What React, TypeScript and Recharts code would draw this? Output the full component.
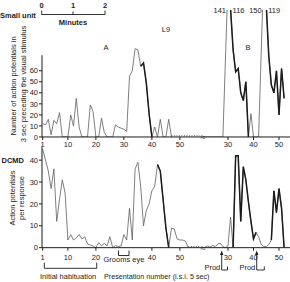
import { LineChart, Line, XAxis, YAxis, ReferenceLine, ReferenceDot } from "recharts"

const FONT = "'Liberation Sans', Arial, sans-serif"
const INK = "#1c1c1c"
const THIN = "#5e5e5e"

// first trial number of each run of values
const startA = 1
const startB = 21

// upper graph: action potentials of the small unit in the 3 sec before the stimulus
const upperA = [
  12, 11, 16, 2, 15, 12, 22, 0, 0, 0, 20, 10, 35, 9, 0, 0, 0, 29, 23, 0, 0, 17, 4, 0, 0, 0, 11, 9, 8, 7, 5, 55, 60,
  80, 79, 64, 67, 49, 21, 0, 9, 0, 16, 0, 0, 16, 0,
]
const upperB = [
  0, 0, 0, 0, 0, 0, 0, 0, null, 141, 116, 79, 59, 62, 40, 33, 50, 0, 21, 0, 0, 0, null, 150, 119, 73, 47, 40, 60, 20,
  62, 35,
]
// dotted stretch after session A
const upperGapTrials = [47, 57]
const upperGapValues = [1, 1]

// lower graph: DCMD action potentials per response
const lowerA = [
  45, 40, 35, 27, 36, 12, 22, 31, 25, 3.5, 6, 3.5, 4.5, 6, 4, 5, 1.7, 1.2, 0.8, 0, 2.3, 0.8, 2, 0.8, 5, 0, 1, 0.5, 0.8,
  6, 3.5, 18, 3.5, 36, 39, 28, 10, 17, 20, 26, 28, 38, 35, 22, 9, 0, 9, 8.5, 4, 3.5, 3.5, 3, 0,
]
const lowerB = [
  0.3, 0.8, 0.3, 1, 0.5, 1.7, 2, 0.5, 0, 0.8, 14, 0, 42, 42, 12, 37, 31, 21, 12, 4, 7, 5, 1.5, 0.5, 0.5, 1.5, 3.5, 26,
  16, 27, 18, 0,
]
const lowerGapTrials = [53, 57]
const lowerGapValues = [0.5, 0.5]

// trial ranges drawn with the heavy line
const upperThickA = [[36, 40]]
const upperThickB = [[31, 38], [45, 52]]
const lowerThickA = [[42, 46]]
const lowerThickB = [[32, 41], [47, 52]]

const upperTicksA = [1, 10, 20, 30, 40, 50]
const lowerTicksA = [1, 10, 20, 40, 50]
const ticksB = [30, 40, 50]
const upperYTicks = [0, 10, 20, 30, 40, 50, 60]
const lowerYTicks = [0, 10, 20, 30, 40]

// broken x axis: each session has its own scale
const A_DOMAIN: [number, number] = [0.75, 89.32]
const B_DOMAIN: [number, number] = [-42.94, 54.31]

type Pt = { t: number; v: number | null }
const pts = (start: number, vals: (number | null)[]): Pt[] => vals.map((v, i) => ({ t: start + i, v }))
const within = (p: Pt[], r: number[]) => p.filter((d) => d.t >= r[0] && d.t <= r[1])

const tickStyle = { fontSize: 7.5, fill: INK, fontFamily: FONT }

type PanelProps = {
  top: number
  height: number
  marginBottom: number
  yDomain: [number, number]
  yTicks: number[]
  yLineTop?: number
  a: Pt[]
  b: Pt[]
  gap: Pt[]
  thickA: number[][]
  thickB: number[][]
  aTicks: number[]
  tickGap: number
  peakCut?: number
}

function Panel(p: PanelProps) {
  const peaks = p.peakCut ? p.b.filter((d) => d.v !== null && d.v > (p.peakCut as number)) : []
  return (
    <div style={{ position: "absolute", left: 0, top: p.top }}>
      <LineChart width={290} height={p.height} margin={{ top: 10, right: 0, bottom: p.marginBottom, left: 0 }}>
        <XAxis
          xAxisId="b"
          dataKey="t"
          type="number"
          domain={B_DOMAIN}
          allowDataOverflow
          ticks={ticksB}
          interval={0}
          height={0.01}
          axisLine={false}
          tickSize={3}
          tickMargin={p.tickGap}
          tick={tickStyle}
          stroke={INK}
        />
        <XAxis
          xAxisId="a"
          dataKey="t"
          type="number"
          domain={A_DOMAIN}
          allowDataOverflow
          ticks={p.aTicks}
          interval={0}
          height={0.01}
          tickSize={3}
          tickMargin={p.tickGap}
          tick={tickStyle}
          stroke={INK}
        />
        <YAxis
          type="number"
          domain={p.yDomain}
          allowDataOverflow
          ticks={p.yTicks}
          interval={0}
          width={42}
          axisLine={p.yLineTop === undefined}
          tickSize={3}
          tickMargin={1}
          tick={tickStyle}
          stroke={INK}
        />
        {p.yLineTop !== undefined && (
          <ReferenceLine
            xAxisId="a"
            ifOverflow="visible"
            segment={[
              { x: A_DOMAIN[0], y: 0 },
              { x: A_DOMAIN[0], y: p.yLineTop },
            ]}
            stroke={INK}
            strokeWidth={1}
          />
        )}
        <Line xAxisId="a" data={p.a} dataKey="v" stroke={THIN} strokeWidth={0.8} dot={false} activeDot={false} isAnimationActive={false} connectNulls />
        <Line xAxisId="a" data={p.gap} dataKey="v" stroke={INK} strokeWidth={0.9} strokeDasharray="0.9 1.6" dot={false} activeDot={false} isAnimationActive={false} />
        <Line xAxisId="b" data={p.b} dataKey="v" stroke={THIN} strokeWidth={0.8} dot={false} activeDot={false} isAnimationActive={false} connectNulls />
        {p.thickA.map((r, i) => (
          <Line key={"ta" + i} xAxisId="a" data={within(p.a, r)} dataKey="v" stroke={INK} strokeWidth={1.5} dot={false} activeDot={false} isAnimationActive={false} connectNulls />
        ))}
        {p.thickB.map((r, i) => (
          <Line key={"tb" + i} xAxisId="b" data={within(p.b, r)} dataKey="v" stroke={INK} strokeWidth={1.5} dot={false} activeDot={false} isAnimationActive={false} connectNulls />
        ))}
        {peaks.map((d, i) => (
          <ReferenceDot
            key={"pk" + d.t}
            xAxisId="b"
            x={d.t}
            y={p.yDomain[1]}
            r={0}
            ifOverflow="visible"
            label={{
              value: String(d.v),
              position: i % 2 === 0 ? "left" : "right",
              offset: 2,
              fontSize: 7.5,
              fill: INK,
              fontFamily: FONT,
            }}
          />
        ))}
      </LineChart>
    </div>
  )
}

export default function App() {
  const txt = { fontFamily: FONT, fontSize: 7.5, fill: INK }
  return (
    <div style={{ position: "absolute", left: 0, top: 0, width: 290, height: 282, background: "#fff" }}>
      <Panel
        top={0}
        height={150}
        marginBottom={13}
        yDomain={[0, 115]}
        yTicks={upperYTicks}
        yLineTop={74}
        a={pts(startA, upperA)}
        b={pts(startB, upperB)}
        gap={upperGapTrials.map((t, i) => ({ t, v: upperGapValues[i] }))}
        thickA={upperThickA}
        thickB={upperThickB}
        aTicks={upperTicksA}
        tickGap={2}
        peakCut={115}
      />
      <Panel
        top={137}
        height={145}
        marginBottom={34.3}
        yDomain={[0, 46]}
        yTicks={lowerYTicks}
        a={pts(startA, lowerA)}
        b={pts(startB, lowerB)}
        gap={lowerGapTrials.map((t, i) => ({ t, v: lowerGapValues[i] }))}
        thickA={lowerThickA}
        thickB={lowerThickB}
        aTicks={lowerTicksA}
        tickGap={4}
      />
      <svg width={290} height={282} style={{ position: "absolute", left: 0, top: 0, pointerEvents: "none" }}>
        <text x={0} y={18} {...txt} fontWeight="bold">Small unit</text>
        <path d="M41.7 10.5 V14.5 H105 V10.5 M73 11.5 V14.5" stroke={INK} strokeWidth={0.9} fill="none" />
        <text x={41.7} y={8} {...txt} fontWeight="bold" textAnchor="middle">0</text>
        <text x={73} y={8} {...txt} fontWeight="bold" textAnchor="middle">1</text>
        <text x={105} y={8} {...txt} fontWeight="bold" textAnchor="middle">2</text>
        <text x={73} y={24.5} {...txt} fontWeight="bold" textAnchor="middle">Minutes</text>

        <text transform="translate(16,86) rotate(-90)" {...txt} textAnchor="middle">Number of action potentials in</text>
        <text transform="translate(26,84) rotate(-90)" {...txt} textAnchor="middle">3 sec preceding the visual stimulus</text>
        <text x={106} y={50} {...txt} textAnchor="middle">A</text>
        <text x={166} y={32} {...txt} textAnchor="middle">L9</text>
        <text x={248} y={50} {...txt} textAnchor="middle">B</text>
        <text x={203} y={139.5} {...txt} fontSize={9} textAnchor="middle">≈</text>

        <text x={1.5} y={163} {...txt} fontWeight="bold">DCMD</text>
        <text transform="translate(15,198) rotate(-90)" {...txt} textAnchor="middle">Action potentials</text>
        <text transform="translate(24,198) rotate(-90)" {...txt} textAnchor="middle">per response</text>
        <text x={203} y={250.5} {...txt} fontSize={9} textAnchor="middle">≈</text>

        <text x={103.5} y={262} {...txt}>Grooms eye</text>
        <path d="M118.5 250.5 V255.5 H129 V250.5" stroke={INK} strokeWidth={0.9} fill="none" />
        <path d="M44.3 262.7 V268.3 H96.7 V262.7" stroke={INK} strokeWidth={0.9} fill="none" />
        <text x={40} y={278.5} {...txt}>Initial habituation</text>
        <text x={104} y={278.5} {...txt} fontSize={7.2}>Presentation number (i.s.i. 5 sec)</text>

        <text x={220.3} y={269.5} {...txt} textAnchor="end">Prod</text>
        <path d="M221.7 254 V270 H227.5 V266.5" stroke={INK} strokeWidth={0.9} fill="none" />
        <path d="M221.7 250.5 L220 255 H223.4 Z" fill={INK} />
        <text x={255.3} y={269.5} {...txt} textAnchor="end">Prod</text>
        <path d="M256.7 254 V270 H264.3 V266.5" stroke={INK} strokeWidth={0.9} fill="none" />
        <path d="M256.7 250.5 L255 255 H258.4 Z" fill={INK} />
      </svg>
    </div>
  )
}
